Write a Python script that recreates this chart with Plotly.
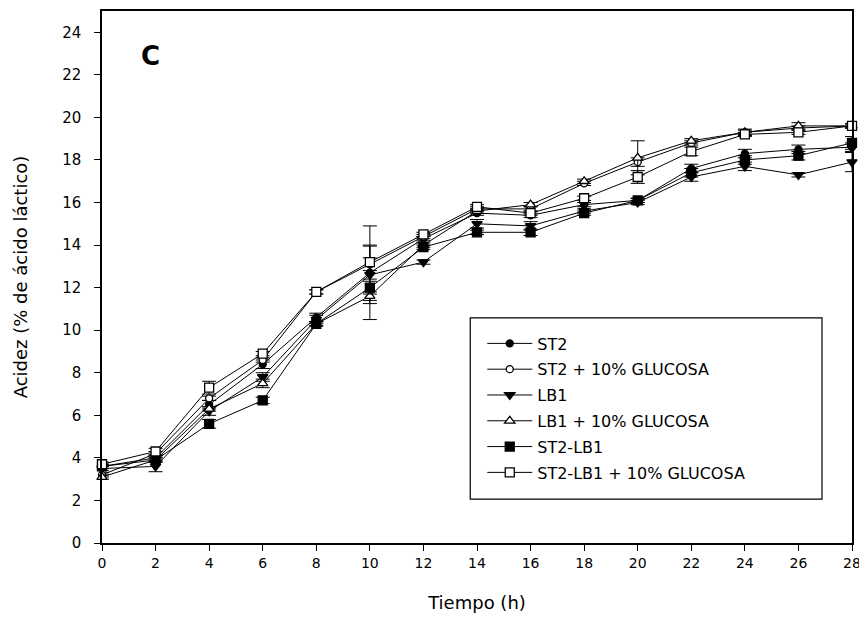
import plotly.graph_objects as go

tiempo = [0, 2, 4, 6, 8, 10, 12, 14, 16, 18, 20, 22, 24, 26, 28]

st2 =        [3.6, 4.0, 6.5, 8.4, 10.6, 12.7, 14.3, 15.5, 15.4, 15.9, 16.1, 17.6, 18.3, 18.5, 18.6]
st2_err =    [0.1, 0.1, 0.2, 0.2, 0.2, 2.2, 0.1, 0.1, 0.1, 0.1, 0.1, 0.2, 0.2, 0.2, 0.2]
st2_g =      [3.2, 4.2, 6.8, 8.6, 11.8, 13.1, 14.4, 15.7, 15.7, 16.9, 17.9, 18.8, 19.3, 19.5, 19.6]
st2_g_err =  [0.1, 0.1, 0.1, 0.1, 0.1, 0.3, 0.1, 0.1, 0.1, 0.1, 0.2, 0.1, 0.1, 0.1, 0.1]
lb1 =        [3.5, 3.6, 6.2, 7.8, 10.5, 12.6, 13.2, 15.0, 14.9, 15.6, 16.0, 17.2, 17.7, 17.3, 17.9]
lb1_err =    [0.1, 0.25, 0.2, 0.2, 0.2, 1.35, 0.1, 0.2, 0.2, 0.1, 0.1, 0.2, 0.2, 0.1, 0.45]
lb1_g =      [3.1, 3.9, 6.3, 7.5, 10.3, 11.6, 14.0, 15.6, 15.9, 17.0, 18.1, 18.9, 19.3, 19.6, 19.6]
lb1_g_err =  [0.1, 0.1, 0.1, 0.2, 0.1, 0.2, 0.1, 0.1, 0.1, 0.1, 0.8, 0.1, 0.15, 0.15, 0.1]
st2lb1 =     [3.6, 3.9, 5.6, 6.7, 10.3, 12.0, 13.9, 14.6, 14.6, 15.5, 16.1, 17.4, 18.0, 18.2, 18.8]
st2lb1_err = [0.1, 0.1, 0.2, 0.15, 0.1, 0.3, 0.1, 0.1, 0.15, 0.1, 0.1, 0.2, 0.2, 0.2, 0.3]
st2lb1_g =   [3.7, 4.3, 7.3, 8.9, 11.8, 13.2, 14.5, 15.8, 15.5, 16.2, 17.2, 18.4, 19.2, 19.3, 19.6]
st2lb1_g_err=[0.1, 0.15, 0.3, 0.1, 0.1, 0.8, 0.1, 0.1, 0.1, 0.1, 0.3, 0.2, 0.1, 0.1, 0.1]

names = ["ST2", "ST2 + 10% GLUCOSA", "LB1", "LB1 + 10% GLUCOSA", "ST2-LB1", "ST2-LB1 + 10% GLUCOSA"]
series = [st2, st2_g, lb1, lb1_g, st2lb1, st2lb1_g]
errors = [st2_err, st2_g_err, lb1_err, lb1_g_err, st2lb1_err, st2lb1_g_err]
symbols = ["circle", "circle-open", "triangle-down", "triangle-up-open", "square", "square-open"]
sizes = [7, 7, 9, 9, 9, 9]

FONT = "DejaVu Sans, Liberation Sans, Arial, sans-serif"

fig = go.Figure()
for i, (n, ys, es, sym, sz) in enumerate(zip(names, series, errors, symbols, sizes)):
    fill_open = sym.endswith("-open")
    fig.add_trace(go.Scatter(
        x=tiempo, y=ys, name=n, mode="lines+markers",
        legendgroup=f"g{i}",
        line=dict(color="black", width=1),
        marker=dict(symbol=sym.replace("-open", "") if fill_open else sym, size=sz,
                    color="white" if fill_open else "black",
                    line=dict(color="black", width=1.3)),
        error_y=dict(type="data", array=es, visible=True, color="black", thickness=1, width=7),
        cliponaxis=False,
    ))

fig.add_annotation(text="<b>C</b>", x=0.064, y=0.915, xref="paper", yref="paper",
                   showarrow=False, font=dict(size=26, color="black", family=FONT),
                   xanchor="center", yanchor="middle")

# legend frame
fig.add_shape(type="rect", xref="paper", yref="paper",
              x0=0.491, x1=0.96, y0=0.0824, y1=0.423,
              line=dict(color="black", width=1.2), fillcolor="white", layer="above")

fig.update_layout(
    width=859, height=621,
    margin=dict(l=94, r=15, t=1, b=86),
    plot_bgcolor="white", paper_bgcolor="white",
    font=dict(family=FONT, color="black", size=15),
    showlegend=True,
    legend=dict(x=0.507, y=0.407, xanchor="left", yanchor="top",
                borderwidth=0, bgcolor="rgba(0,0,0,0)",
                font=dict(size=16, color="black", family=FONT),
                itemwidth=45,
                traceorder="grouped", tracegroupgap=2),
    xaxis=dict(range=[0, 28], tickvals=tiempo, ticks="outside", ticklen=6, tickcolor="black",
               showline=True, linecolor="black", linewidth=1.5, mirror=True,
               showgrid=False, zeroline=False, tickfont=dict(size=14),
               title=dict(text="Tiempo (h)", font=dict(size=18), standoff=27)),
    yaxis=dict(range=[0, 25], tickvals=list(range(0, 25, 2)), ticks="outside", ticklen=6,
               tickcolor="black", showline=True, linecolor="black", linewidth=1.5, mirror=True,
               showgrid=False, zeroline=False, ticklabelstandoff=10, tickfont=dict(size=15),
               title=dict(text="Acidez (% de ácido láctico)", font=dict(size=18), standoff=30)),
)

fig.write_html("out.html")
